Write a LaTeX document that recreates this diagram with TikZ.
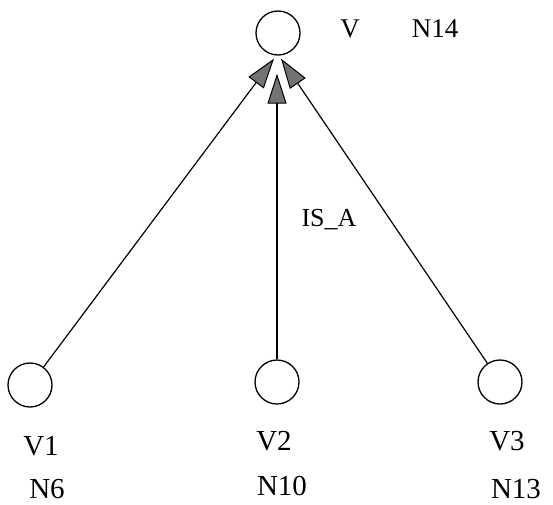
\documentclass[tikz,border=0pt]{standalone}
\usepackage{fontspec}
\setmainfont{Liberation Serif}
\usetikzlibrary{arrows.meta}
\begin{document}
\begin{tikzpicture}[x=1pt,y=-1pt,
  vert/.style={draw,circle,line width=1.3pt,minimum size=44pt,inner sep=0pt},
  arr/.style={line width=1.2pt,-{Triangle[length=30pt,width=19pt,fill=black!55,line width=1pt]}},
  toplab/.style={font=\fontsize{27}{27}\selectfont,inner sep=0pt},
  botlab/.style={font=\fontsize{29}{29}\selectfont,inner sep=0pt}]
\useasboundingbox (0,0) rectangle (553,504);
\node[vert] (top) at (278,33) {};
\node[vert] (v1) at (30,385) {};
\node[vert] (v2) at (277,382) {};
\node[vert] (v3) at (500,382) {};
\node[toplab] (lv) at (350,29) {V};
\node[toplab] (ln14) at (435,29) {N14};
\node[botlab] (lv1) at (41,446) {V1};
\node[botlab] (ln6) at (47,489) {N6};
\node[botlab] (lv2) at (274,441) {V2};
\node[botlab] (ln10) at (282,486) {N10};
\node[botlab] (lv3) at (507,441) {V3};
\node[botlab] (ln13) at (516,489) {N13};
\node[botlab,font=\fontsize{26}{26}\selectfont] (isa) at (329,220) {IS\_A};
\coordinate (ltip) at ([shift={(-4,3)}]top.south);
\coordinate (rtip) at ([shift={(3,3)}]top.south);
\coordinate (mtip) at ([shift={(-1,18)}]top.south);
\draw[arr] (v1.53) -- (ltip);
\draw[arr] (v3.124) -- (rtip);
\draw[arr] (v2.north) -- (mtip);
\end{tikzpicture}
\end{document}
